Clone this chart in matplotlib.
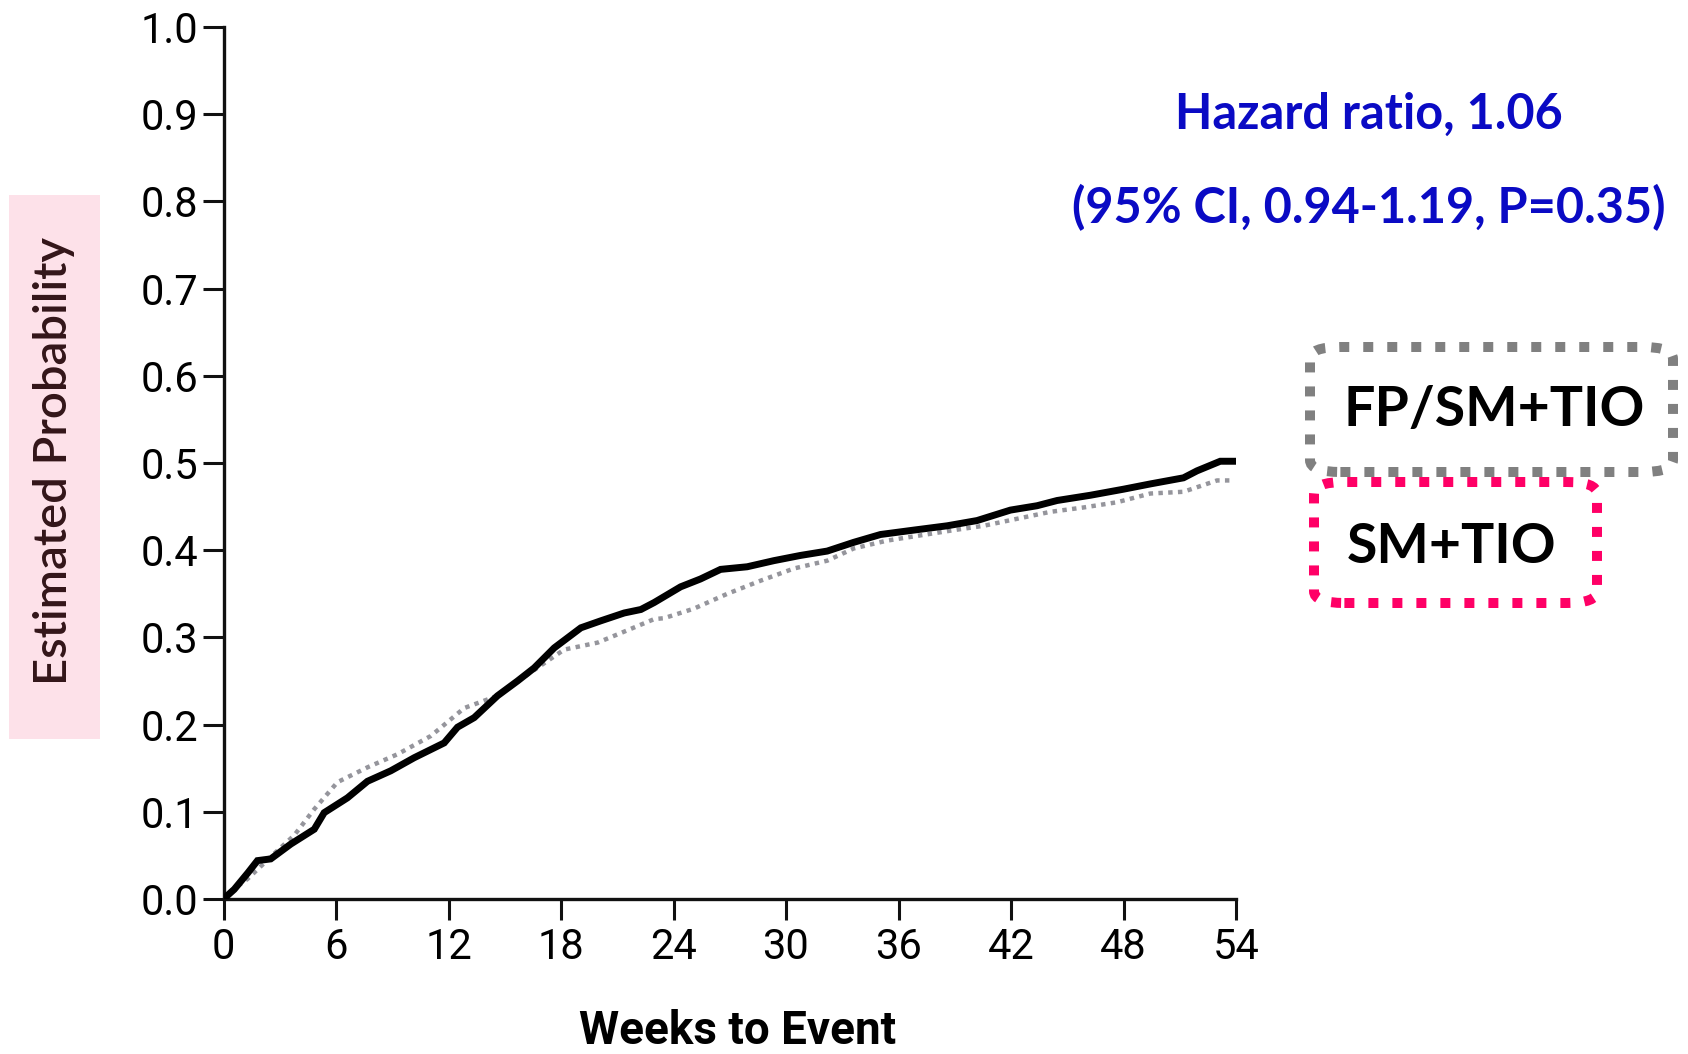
import matplotlib.pyplot as plt
from matplotlib.patches import Rectangle, FancyBboxPatch

# cumulative probability of the event, read per treatment arm
weeks_sm_tio = [0, 0.57, 1.3, 1.81, 2.52, 3.59, 4.84, 5.37, 6.61, 7.68, 8.92, 10.17,
                11.77, 12.48, 13.37, 14.61, 15.68, 16.57, 17.64, 19.06, 20.12, 21.37,
                22.26, 22.97, 24.38, 25.44, 26.51, 27.93, 29.35, 30.77, 32.2, 33.61,
                35.04, 36.8, 38.6, 40.19, 41.97, 43.39, 44.46, 46.23, 48.01, 49.43,
                51.2, 51.92, 53.16, 54]
prob_sm_tio = [0, 0.011, 0.03, 0.044, 0.046, 0.063, 0.080, 0.099, 0.116, 0.135, 0.147,
               0.162, 0.179, 0.197, 0.208, 0.233, 0.250, 0.265, 0.288, 0.311, 0.319,
               0.328, 0.332, 0.340, 0.358, 0.367, 0.378, 0.381, 0.388, 0.394, 0.399,
               0.409, 0.418, 0.423, 0.428, 0.434, 0.446, 0.451, 0.457, 0.463, 0.470,
               0.476, 0.483, 0.491, 0.502, 0.502]

weeks_fp = [0, 0.2, 1.28, 2.7, 3.77, 4.84, 6.08, 7.68, 9.28, 11.06, 12.84, 14.61,
            16.39, 18.17, 19.95, 21.19, 22.97, 23.49, 25.09, 26.87, 28.64, 30.42,
            32.2, 33.61, 35.39, 37.17, 38.95, 40.54, 42.32, 44.1, 45.87, 47.66,
            49.43, 51.2, 52.99, 53.87]
prob_fp = [0, 0.006, 0.023, 0.052, 0.073, 0.103, 0.134, 0.151, 0.166, 0.187, 0.219,
           0.233, 0.260, 0.286, 0.294, 0.305, 0.321, 0.322, 0.333, 0.350, 0.365,
           0.379, 0.388, 0.402, 0.411, 0.417, 0.423, 0.428, 0.436, 0.444, 0.449,
           0.455, 0.465, 0.467, 0.480, 0.480]

x_ticks = [0, 6, 12, 18, 24, 30, 36, 42, 48, 54]
y_ticks = [0.0, 0.1, 0.2, 0.3, 0.4, 0.5, 0.6, 0.7, 0.8, 0.9, 1.0]

hr_line1 = "Hazard ratio, 1.06"
hr_line2 = "(95% CI, 0.94-1.19, P=0.35)"
arm_labels = ["FP/SM+TIO", "SM+TIO"]

W, H = 1688, 1054
tick_font = ["Roboto", "DejaVu Sans"]
blue = "#0a0ac4"

fig = plt.figure(figsize=(W / 100, H / 100), dpi=100)
fig.patch.set_facecolor("white")


def fx(px):
    return px / W


def fy(py):
    return 1 - py / H


ax = fig.add_axes([fx(223.5), fy(899), fx(1236) - fx(223.5), fy(27) - fy(899)])

ax.plot(weeks_fp, prob_fp, color="#95959c", lw=3.2, linestyle=(0, (1, 1.2)),
        dash_capstyle="butt", zorder=2)
ax.plot(weeks_sm_tio, prob_sm_tio, color="black", lw=5.0, solid_joinstyle="miter", zorder=3)

ax.set_xlim(0, 54)
ax.set_ylim(0, 1)
ax.set_xticks(x_ticks)
ax.set_yticks(y_ticks)
ax.set_xticklabels([str(t) for t in x_ticks], family=tick_font, fontsize=30)
ax.set_yticklabels([f"{t:.1f}" for t in y_ticks], family=tick_font, fontsize=30)
ax.tick_params(direction="out", length=15, width=2.2, color="#111111")
ax.tick_params(axis="x", pad=5)
ax.tick_params(axis="y", pad=3)
for side in ["top", "right"]:
    ax.spines[side].set_visible(False)
for side in ["left", "bottom"]:
    ax.spines[side].set_linewidth(2.4)
    ax.spines[side].set_color("#111111")

# axis titles
fig.text(fx(738), fy(1031), "Weeks to Event", family=tick_font, fontweight="bold",
         fontsize=33, ha="center", va="center")
fig.patches.append(Rectangle((fx(9), fy(739)), fx(100) - fx(9), fy(195) - fy(739),
                             transform=fig.transFigure, facecolor="#fde1e9",
                             edgecolor="none", zorder=0))
fig.text(fx(54), fy(461), "Estimated Probability", family="Lato", fontweight=600,
         fontsize=34, color="#331519", rotation=90, ha="center", va="center")

# hazard ratio annotation
fig.text(fx(1369), fy(114), hr_line1, family="Lato", fontweight="bold", fontsize=35,
         color=blue, ha="center", va="center")
fig.text(fx(1369), fy(208), hr_line2, family="Lato", fontweight="bold", fontsize=35,
         color=blue, ha="center", va="center")

# dotted legend boxes
box_edges = [(1310, 347, 1673, 472), (1314, 482, 1597, 603)]
box_colors = ["#808080", "#ff0066"]
label_pos = [(1494, 410), (1452, 547)]
for (x0, y0, x1, y1), col, (tx, ty), label in zip(box_edges, box_colors, label_pos, arm_labels):
    box = FancyBboxPatch((fx(x0), fy(y1)), fx(x1) - fx(x0), fy(y0) - fy(y1),
                         boxstyle="round,pad=0,rounding_size=0.018",
                         transform=fig.transFigure, facecolor="none", edgecolor=col,
                         lw=7.2, linestyle=(0, (1, 1.4)), mutation_aspect=H / W)
    box.set_capstyle("butt")
    fig.patches.append(box)
    fig.text(fx(tx), fy(ty), label, family="Lato", fontweight="bold", fontsize=40,
             ha="center", va="center")

fig.savefig("out.png", dpi=100)
